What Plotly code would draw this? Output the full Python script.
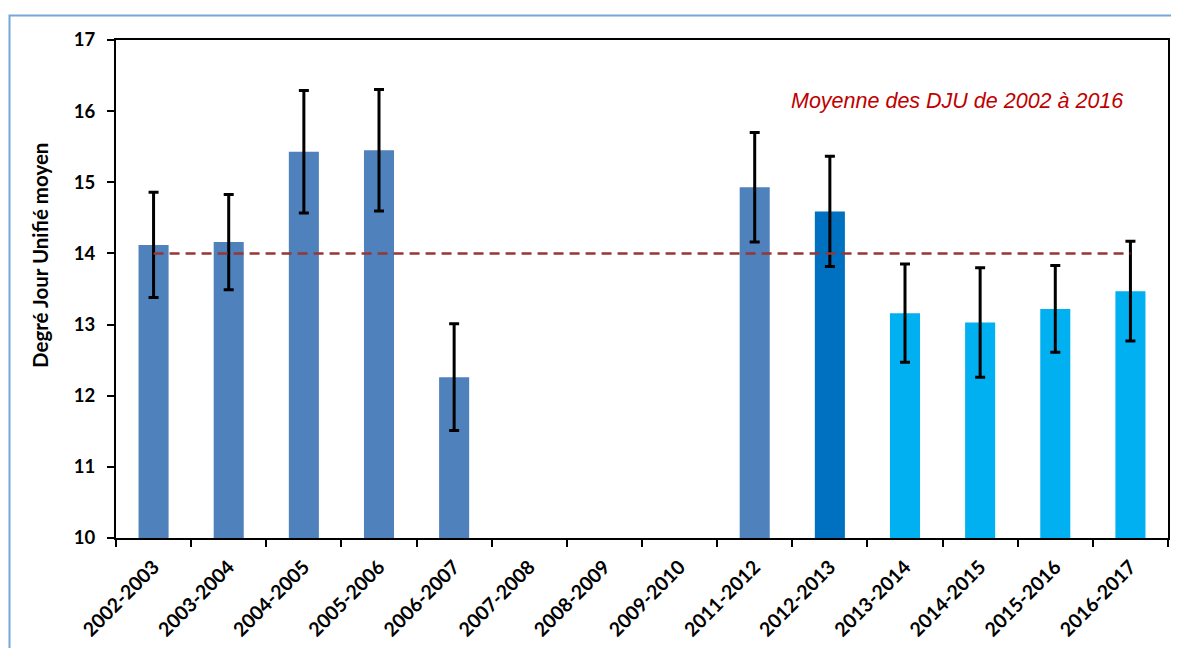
import plotly.graph_objects as go

categories = ["2002-2003", "2003-2004", "2004-2005", "2005-2006", "2006-2007",
              "2007-2008", "2008-2009", "2009-2010", "2011-2012", "2012-2013",
              "2013-2014", "2014-2015", "2015-2016", "2016-2017"]
dju_values = [14.12, 14.16, 15.43, 15.45, 12.26, None, None, None,
              14.93, 14.59, 13.16, 13.03, 13.22, 13.47]
dju_errors = [0.74, 0.67, 0.86, 0.855, 0.75, None, None, None,
              0.77, 0.775, 0.69, 0.77, 0.61, 0.70]
bar_colors = ["#4F81BD"] * 9 + ["#0070C0"] + ["#00B0F0"] * 4
mean_dju = 14.0
mean_label = "Moyenne des DJU de 2002 à 2016"
y_title = "Degré Jour Unifié moyen"

OFF = 8  # page body margin
W, H = 1179 - OFF, 648 - OFF
L, T = 116 - OFF, 40 - OFF
R = W - (1168 - OFF)
B = H - (538 - OFF)
pw, ph = W - L - R, H - T - B

def px_to_paper_x(px):
    return (px - OFF - L) / pw

def px_to_paper_y(py):
    return (H - B - (py - OFF)) / ph

fig = go.Figure()
fig.add_trace(go.Bar(
    x=categories, y=dju_values, marker=dict(color=bar_colors, line=dict(width=0)),
    width=0.4,
    error_y=dict(type="data", array=dju_errors, visible=True, color="black",
                 thickness=3, width=5),
    showlegend=False, hoverinfo="x+y",
))
fig.add_trace(go.Scatter(
    x=categories, y=[mean_dju] * len(categories), mode="lines",
    line=dict(color="#953735", width=2.5, dash="10px,6px"), showlegend=False,
))

fig.add_shape(type="rect", xref="paper", yref="paper",
              x0=px_to_paper_x(9.5), x1=px_to_paper_x(1200),
              y0=px_to_paper_y(700), y1=px_to_paper_y(15.5),
              line=dict(color="#78A6DB", width=2), fillcolor="rgba(0,0,0,0)",
              layer="below")

fig.add_annotation(text="<i>" + mean_label + "</i>", xref="paper", yref="paper",
                   x=px_to_paper_x(957), y=px_to_paper_y(101),
                   showarrow=False, xanchor="center", yanchor="middle",
                   font=dict(family="Liberation Sans, Arial", size=21.5, color="#C00000"))

fig.add_annotation(text="<b>" + y_title + "</b>", xref="paper", yref="paper",
                   x=px_to_paper_x(40), y=px_to_paper_y(256), textangle=-90,
                   showarrow=False, xanchor="center", yanchor="middle",
                   font=dict(family="Lato, sans-serif", size=20.5, color="black"))

fig.update_layout(
    width=W, height=H,
    margin=dict(l=L, r=R, t=T, b=B),
    paper_bgcolor="white", plot_bgcolor="white",
    font=dict(family="Lato, sans-serif", color="black"),
)
fig.update_xaxes(
    type="category", tickson="boundaries", ticks="outside", ticklen=7,
    tickwidth=2, tickcolor="black", showline=True, linecolor="black",
    linewidth=2, mirror=True, tickangle=-45, automargin=False,
    ticklabelstandoff=8,
    tickfont=dict(size=19.5, family="Lato, sans-serif", weight="bold"),
    showgrid=False, range=[-0.5, 13.5],
)
fig.update_yaxes(
    range=[10, 17], dtick=1, ticks="outside", ticklen=7, tickwidth=2,
    tickcolor="black", showline=True, linecolor="black", linewidth=2,
    mirror=True, showgrid=False, zeroline=False, automargin=False,
    ticklabelstandoff=8,
    tickfont=dict(size=18.5, family="Lato, sans-serif", weight="bold"),
)

fig.write_html("out.html")
